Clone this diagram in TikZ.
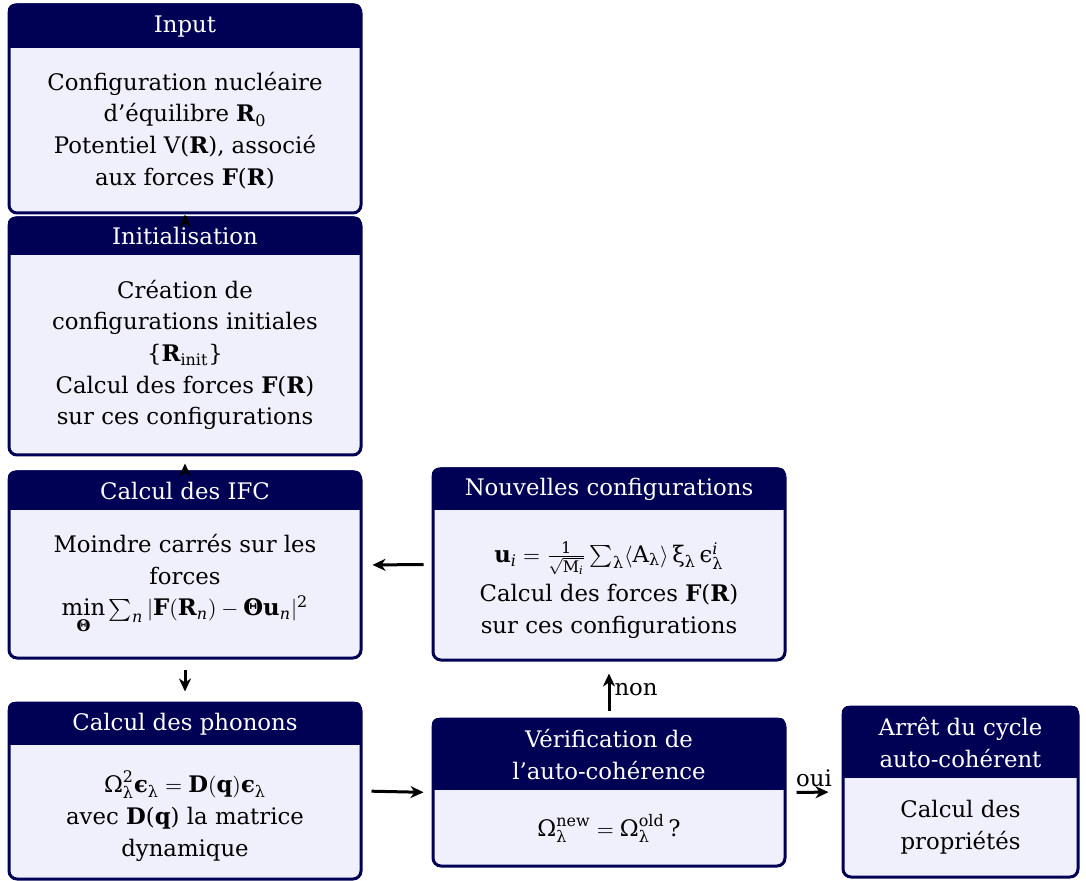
\documentclass[tikz,border=0pt]{standalone}
\usepackage{amsmath}
\usepackage{fontspec}
\setmainfont{DejaVu Serif}
\usetikzlibrary{fit,calc,arrows.meta}
\definecolor{navyc}{RGB}{0,0,85}
\definecolor{bodyc}{RGB}{240,240,252}
\newcommand\glam{\text{λ}}
\newcommand\mysub[1]{$_{\text{#1}}$}
\tikzset{
  every node/.style={font=\fontsize{11.4}{15.85}\selectfont},
  boxst/.style={draw=navyc, fill=bodyc, line width=1.5pt, rounded corners=4pt, inner sep=0pt},
  hdrfill/.style={fill=navyc},
  hdrtext/.style={text=white, align=center, inner sep=0pt},
  bodytext/.style={text=black, align=center, inner sep=0pt},
  arr/.style={-{Stealth[length=6.5pt, width=6pt, inset=2pt]}, line width=1.5pt, black},
  nouvb/.style={yshift=-2.5pt},
  phonb/.style={yshift=-2pt},
}
\newcommand\mkflowbox[8]{%
  \node[boxst, fit={(#2,#3) (#4,#5)}] (#1) {};
  \begin{scope}
    \clip[rounded corners=4pt] (#1.south west) rectangle (#1.north east);
    \fill[hdrfill] (#1.north west) rectangle (#4,#6);
  \end{scope}
  \node[hdrtext] (#1-h) at ({(#2+#4)/2},{(#3+#6)/2}) {#7};
  \node[bodytext, #1b/.try] (#1-b) at ({(#2+#4)/2},{(#6+#5)/2}) {#8};
}
\begin{document}
\begin{tikzpicture}[x=0.5pt,y=-0.5pt]
\useasboundingbox (0,0) rectangle (1086,881);

\mkflowbox{input}{9}{5}{361}{213}{48}{Input}{Configuration nucléaire\\ d'équilibre \textbf{R}\mysub{0}\\ Potentiel V(\textbf{R}), associé\\ aux forces \textbf{F}(\textbf{R})}

\mkflowbox{init}{9}{218}{361}{455}{255}{Initialisation}{Création de\\ configurations initiales\\ \{\textbf{R}\mysub{init}\}\\ Calcul des forces \textbf{F}(\textbf{R})\\ sur ces configurations}

\mkflowbox{ifc}{9}{472}{361}{658}{510}{Calcul des IFC}{Moindre carrés sur les\\ forces\\ $\min\limits_{\text{\textbf{Θ}}}\sum_{\mathit{n}}|\mathbf{F}(\mathbf{R}_{\mathit{n}})-\text{\textbf{Θ}}\mathbf{u}_{\mathit{n}}|^{\mathrm{2}}$}

\mkflowbox{phon}{9}{703}{361}{879}{745}{Calcul des phonons}{$\text{Ω}^{\mathrm{2}}_{\glam}\text{\textbf{ϵ}}_{\glam}=\mathbf{D}(\mathbf{q})\text{\textbf{ϵ}}_{\glam}$\\ avec \textbf{D}(\textbf{q}) la matrice\\ dynamique}

\mkflowbox{nouv}{433}{469}{785}{660}{510}{Nouvelles configurations}{$\mathbf{u}_{\mathit{i}}=\frac{\mathrm{1}}{\sqrt{\mathrm{M}_{\mathit{i}}}}\sum_{\glam}\langle\mathrm{A}_{\glam}\rangle\,\text{ξ}_{\glam}\,\text{ϵ}^{\mathit{i}}_{\glam}$\\[4pt] Calcul des forces \textbf{F}(\textbf{R})\\ sur ces configurations}

\mkflowbox{verif}{433}{719}{785}{866}{790}{Vérification de\\ l'auto-cohérence}{$\text{Ω}^{\mathrm{new}}_{\glam}=\text{Ω}^{\mathrm{old}}_{\glam}\,$?}

\mkflowbox{arret}{843}{707}{1078}{877}{778}{Arrêt du cycle\\ auto-cohérent}{Calcul des\\ propriétés}

\draw[arr] (init.north) -- (input.south);
\draw[arr, shorten >=3.5pt] (ifc.north) -- (init.south);
\draw[arr, shorten <=5pt, shorten >=5pt] (ifc.south) -- (phon.north);
\draw[arr, shorten <=4.5pt, shorten >=4pt] (phon.east) -- (verif.west);
\draw[arr, shorten <=3.5pt, shorten >=6pt] (verif.north) -- node[right, inner sep=2pt] (nonlbl) {non} (nouv.south);
\draw[arr, shorten <=4pt, shorten >=5pt] (nouv.west) -- (ifc.east);
\draw[arr, shorten <=5pt, shorten >=6.5pt] (verif.east) -- node[above, inner sep=2pt] (ouilbl) {oui} (arret.west);
\end{tikzpicture}
\end{document}
